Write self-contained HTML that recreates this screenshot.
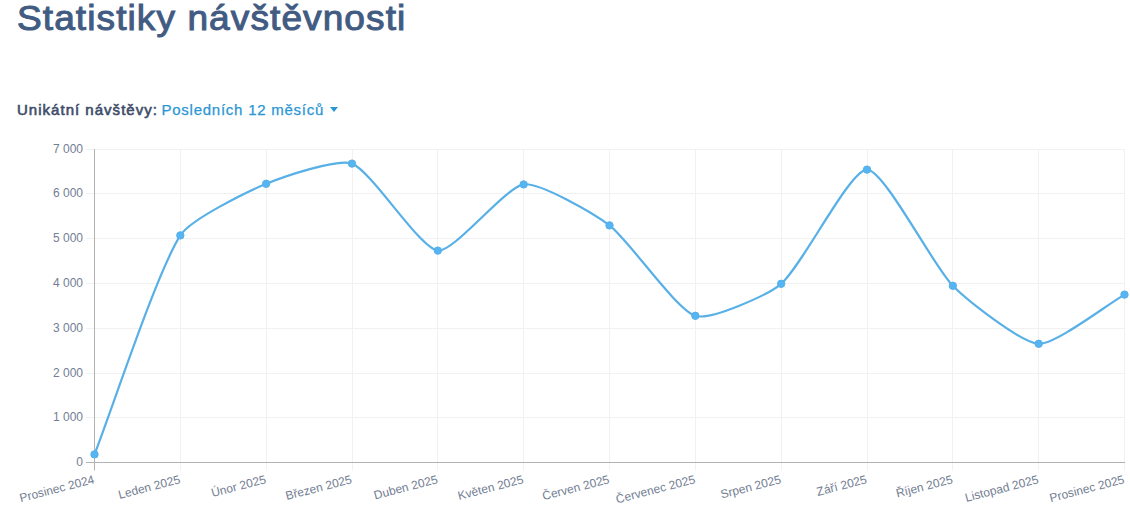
<!DOCTYPE html>
<html><head><meta charset="utf-8"><style>
html,body{margin:0;padding:0;background:#fff;width:1130px;height:514px;overflow:hidden;position:relative}
*{font-family:"Liberation Sans",sans-serif}
h1{position:absolute;left:17.3px;top:0;margin:0;font-size:35px;line-height:36px;font-weight:normal;color:#425b82;white-space:nowrap;transform-origin:0 0;transform:scaleX(1.06);letter-spacing:1.0px;-webkit-text-stroke:1px #425b82}
.lab{position:absolute;left:17px;top:100.5px;font-size:15px;line-height:18px;font-weight:normal;letter-spacing:1.02px;white-space:nowrap;color:#3e4c69;-webkit-text-stroke:0.6px #3e4c69}
.lnk{position:absolute;left:161.5px;top:100.5px;font-size:15px;line-height:18px;letter-spacing:0.75px;white-space:nowrap;color:#2a96d4;-webkit-text-stroke:0.25px #2a96d4}
.caret{position:absolute;left:329.5px;top:107px;width:0;height:0;border-left:4.5px solid transparent;border-right:4.5px solid transparent;border-top:5px solid #2a96d4}
</style></head><body>
<h1>Statistiky návštěvnosti</h1>
<div class="lab">Unikátní návštěvy:</div><div class="lnk">Posledních 12 měsíců</div><div class="caret"></div>
<svg width="1130" height="514" style="position:absolute;left:0;top:0">
<line x1="86" y1="417.5" x2="1125.0" y2="417.5" stroke="#f1f1f1" stroke-width="1"/>
<line x1="86" y1="373.5" x2="1125.0" y2="373.5" stroke="#f1f1f1" stroke-width="1"/>
<line x1="86" y1="328.5" x2="1125.0" y2="328.5" stroke="#f1f1f1" stroke-width="1"/>
<line x1="86" y1="283.5" x2="1125.0" y2="283.5" stroke="#f1f1f1" stroke-width="1"/>
<line x1="86" y1="238.5" x2="1125.0" y2="238.5" stroke="#f1f1f1" stroke-width="1"/>
<line x1="86" y1="193.5" x2="1125.0" y2="193.5" stroke="#f1f1f1" stroke-width="1"/>
<line x1="86" y1="149.5" x2="1125.0" y2="149.5" stroke="#f1f1f1" stroke-width="1"/>
<line x1="180.5" y1="149.0" x2="180.5" y2="470.5" stroke="#f1f1f1" stroke-width="1"/>
<line x1="266.5" y1="149.0" x2="266.5" y2="470.5" stroke="#f1f1f1" stroke-width="1"/>
<line x1="352.5" y1="149.0" x2="352.5" y2="470.5" stroke="#f1f1f1" stroke-width="1"/>
<line x1="437.5" y1="149.0" x2="437.5" y2="470.5" stroke="#f1f1f1" stroke-width="1"/>
<line x1="523.5" y1="149.0" x2="523.5" y2="470.5" stroke="#f1f1f1" stroke-width="1"/>
<line x1="609.5" y1="149.0" x2="609.5" y2="470.5" stroke="#f1f1f1" stroke-width="1"/>
<line x1="695.5" y1="149.0" x2="695.5" y2="470.5" stroke="#f1f1f1" stroke-width="1"/>
<line x1="781.5" y1="149.0" x2="781.5" y2="470.5" stroke="#f1f1f1" stroke-width="1"/>
<line x1="867.5" y1="149.0" x2="867.5" y2="470.5" stroke="#f1f1f1" stroke-width="1"/>
<line x1="952.5" y1="149.0" x2="952.5" y2="470.5" stroke="#f1f1f1" stroke-width="1"/>
<line x1="1038.5" y1="149.0" x2="1038.5" y2="470.5" stroke="#f1f1f1" stroke-width="1"/>
<line x1="1124.5" y1="149.0" x2="1124.5" y2="470.5" stroke="#f1f1f1" stroke-width="1"/>
<line x1="94.5" y1="149.0" x2="94.5" y2="470.5" stroke="#b2b2b2" stroke-width="1"/>
<line x1="86" y1="462.5" x2="1125.0" y2="462.5" stroke="#b2b2b2" stroke-width="1"/>
<text x="83" y="465.7" text-anchor="end" font-family="Liberation Sans" font-size="12" fill="#737e93">0</text>
<text x="83" y="420.7" text-anchor="end" font-family="Liberation Sans" font-size="12" fill="#737e93">1 000</text>
<text x="83" y="376.7" text-anchor="end" font-family="Liberation Sans" font-size="12" fill="#737e93">2 000</text>
<text x="83" y="331.7" text-anchor="end" font-family="Liberation Sans" font-size="12" fill="#737e93">3 000</text>
<text x="83" y="286.7" text-anchor="end" font-family="Liberation Sans" font-size="12" fill="#737e93">4 000</text>
<text x="83" y="241.7" text-anchor="end" font-family="Liberation Sans" font-size="12" fill="#737e93">5 000</text>
<text x="83" y="196.7" text-anchor="end" font-family="Liberation Sans" font-size="12" fill="#737e93">6 000</text>
<text x="83" y="152.7" text-anchor="end" font-family="Liberation Sans" font-size="12" fill="#737e93">7 000</text>
<text transform="translate(92.80,474.3) rotate(-14.5)" x="0" y="0" dy="0.75em" text-anchor="end" font-family="Liberation Sans" font-size="12" fill="#737e93">Prosinec 2024</text>
<text transform="translate(178.63,474.3) rotate(-14.5)" x="0" y="0" dy="0.75em" text-anchor="end" font-family="Liberation Sans" font-size="12" fill="#737e93">Leden 2025</text>
<text transform="translate(264.47,474.3) rotate(-14.5)" x="0" y="0" dy="0.75em" text-anchor="end" font-family="Liberation Sans" font-size="12" fill="#737e93">Únor 2025</text>
<text transform="translate(350.30,474.3) rotate(-14.5)" x="0" y="0" dy="0.75em" text-anchor="end" font-family="Liberation Sans" font-size="12" fill="#737e93">Březen 2025</text>
<text transform="translate(436.13,474.3) rotate(-14.5)" x="0" y="0" dy="0.75em" text-anchor="end" font-family="Liberation Sans" font-size="12" fill="#737e93">Duben 2025</text>
<text transform="translate(521.97,474.3) rotate(-14.5)" x="0" y="0" dy="0.75em" text-anchor="end" font-family="Liberation Sans" font-size="12" fill="#737e93">Květen 2025</text>
<text transform="translate(607.80,474.3) rotate(-14.5)" x="0" y="0" dy="0.75em" text-anchor="end" font-family="Liberation Sans" font-size="12" fill="#737e93">Červen 2025</text>
<text transform="translate(693.63,474.3) rotate(-14.5)" x="0" y="0" dy="0.75em" text-anchor="end" font-family="Liberation Sans" font-size="12" fill="#737e93">Červenec 2025</text>
<text transform="translate(779.47,474.3) rotate(-14.5)" x="0" y="0" dy="0.75em" text-anchor="end" font-family="Liberation Sans" font-size="12" fill="#737e93">Srpen 2025</text>
<text transform="translate(865.30,474.3) rotate(-14.5)" x="0" y="0" dy="0.75em" text-anchor="end" font-family="Liberation Sans" font-size="12" fill="#737e93">Září 2025</text>
<text transform="translate(951.13,474.3) rotate(-14.5)" x="0" y="0" dy="0.75em" text-anchor="end" font-family="Liberation Sans" font-size="12" fill="#737e93">Říjen 2025</text>
<text transform="translate(1036.97,474.3) rotate(-14.5)" x="0" y="0" dy="0.75em" text-anchor="end" font-family="Liberation Sans" font-size="12" fill="#737e93">Listopad 2025</text>
<text transform="translate(1122.80,474.3) rotate(-14.5)" x="0" y="0" dy="0.75em" text-anchor="end" font-family="Liberation Sans" font-size="12" fill="#737e93">Prosinec 2025</text>
<path d="M94.50,454.40 C111.67,410.60 156.25,273.36 180.33,235.40 C190.59,219.24 247.91,191.44 266.17,183.80 C282.24,177.08 337.61,158.00 352.00,163.60 C371.94,171.36 419.64,248.40 437.83,250.60 C453.97,252.56 505.38,187.08 523.67,184.40 C539.71,182.04 594.64,214.03 609.50,225.40 C628.97,240.31 675.54,309.07 695.33,315.80 C709.88,320.75 767.75,295.22 781.17,283.80 C802.09,265.98 849.93,169.40 867.00,169.60 C884.26,169.80 932.84,265.51 952.83,285.80 C967.17,300.35 1021.11,342.90 1038.67,343.80 C1055.44,344.66 1107.33,304.44 1124.50,294.60" fill="none" stroke="#58b0e7" stroke-width="2.2"/>
<circle cx="94.50" cy="454.40" r="3.7" fill="#55b5f2" stroke="#58b0e7" stroke-width="1"/>
<circle cx="180.33" cy="235.40" r="3.7" fill="#55b5f2" stroke="#58b0e7" stroke-width="1"/>
<circle cx="266.17" cy="183.80" r="3.7" fill="#55b5f2" stroke="#58b0e7" stroke-width="1"/>
<circle cx="352.00" cy="163.60" r="3.7" fill="#55b5f2" stroke="#58b0e7" stroke-width="1"/>
<circle cx="437.83" cy="250.60" r="3.7" fill="#55b5f2" stroke="#58b0e7" stroke-width="1"/>
<circle cx="523.67" cy="184.40" r="3.7" fill="#55b5f2" stroke="#58b0e7" stroke-width="1"/>
<circle cx="609.50" cy="225.40" r="3.7" fill="#55b5f2" stroke="#58b0e7" stroke-width="1"/>
<circle cx="695.33" cy="315.80" r="3.7" fill="#55b5f2" stroke="#58b0e7" stroke-width="1"/>
<circle cx="781.17" cy="283.80" r="3.7" fill="#55b5f2" stroke="#58b0e7" stroke-width="1"/>
<circle cx="867.00" cy="169.60" r="3.7" fill="#55b5f2" stroke="#58b0e7" stroke-width="1"/>
<circle cx="952.83" cy="285.80" r="3.7" fill="#55b5f2" stroke="#58b0e7" stroke-width="1"/>
<circle cx="1038.67" cy="343.80" r="3.7" fill="#55b5f2" stroke="#58b0e7" stroke-width="1"/>
<circle cx="1124.50" cy="294.60" r="3.7" fill="#55b5f2" stroke="#58b0e7" stroke-width="1"/>
</svg>
</body></html>
